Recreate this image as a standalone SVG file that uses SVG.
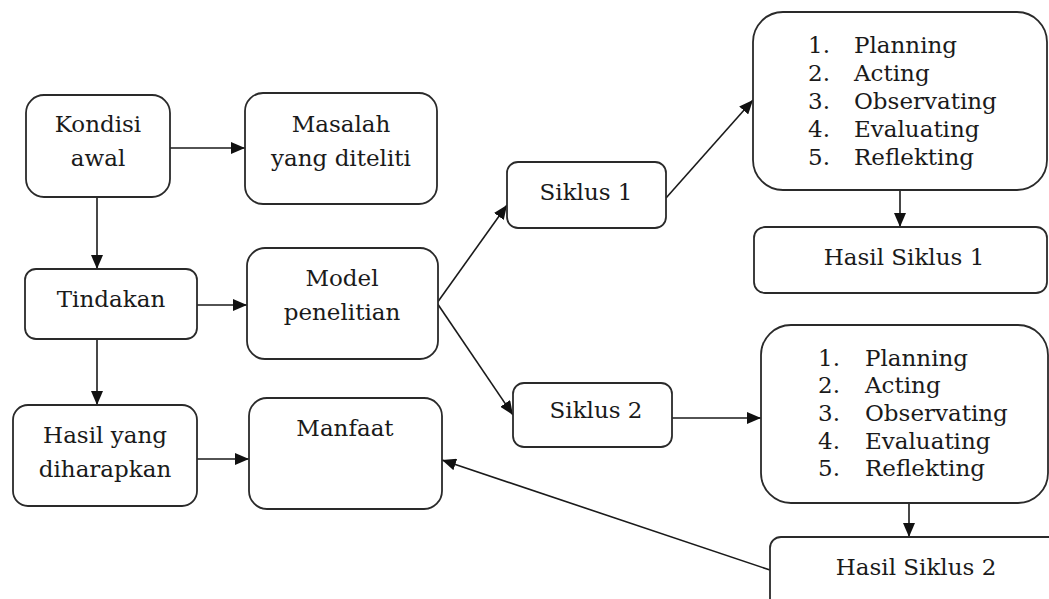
<svg xmlns="http://www.w3.org/2000/svg" width="1049" height="599" viewBox="0 0 1049 599">
<style>
.box{fill:#fff;stroke:#2a2a2a;stroke-width:1.8}
.t{font-family:"DejaVu Serif","Liberation Serif",serif;font-size:23px;fill:#1a1a1a}
.c{text-anchor:middle}
.ln{stroke:#1a1a1a;stroke-width:1.6;fill:none}
</style>
<defs>
<marker id="ah" viewBox="0 0 14 12" refX="14" refY="6" markerWidth="14" markerHeight="12" markerUnits="userSpaceOnUse" orient="auto">
<path d="M0,0 L14,6 L0,12 Z" fill="#111"/>
</marker>
</defs>
<rect width="1049" height="599" fill="#fff"/>
<g id="connectors">
<line class="ln" x1="170" y1="148" x2="245" y2="148" marker-end="url(#ah)"/>
<line class="ln" x1="97" y1="197" x2="97" y2="269" marker-end="url(#ah)"/>
<line class="ln" x1="197" y1="305" x2="247" y2="305" marker-end="url(#ah)"/>
<line class="ln" x1="97" y1="339" x2="97" y2="405" marker-end="url(#ah)"/>
<line class="ln" x1="197" y1="459" x2="249" y2="459" marker-end="url(#ah)"/>
<line class="ln" x1="437" y1="303" x2="507" y2="205" marker-end="url(#ah)"/>
<line class="ln" x1="437" y1="303" x2="513" y2="415" marker-end="url(#ah)"/>
<line class="ln" x1="666" y1="198" x2="753" y2="100" marker-end="url(#ah)"/>
<line class="ln" x1="900" y1="190" x2="900" y2="227" marker-end="url(#ah)"/>
<line class="ln" x1="672" y1="418" x2="761" y2="418" marker-end="url(#ah)"/>
<line class="ln" x1="909" y1="503" x2="909" y2="537" marker-end="url(#ah)"/>
<line class="ln" x1="770" y1="570" x2="442" y2="460" marker-end="url(#ah)"/>
</g>
<g id="kondisi">
<rect class="box" x="26" y="95" width="144" height="102" rx="18"/>
<text class="t c" x="98" y="132">Kondisi</text>
<text class="t c" x="98" y="166">awal</text>
</g>
<g id="masalah">
<rect class="box" x="245" y="93" width="192" height="111" rx="18"/>
<text class="t c" x="341" y="132">Masalah</text>
<text class="t c" x="341" y="166">yang diteliti</text>
</g>
<g id="tindakan">
<rect class="box" x="25" y="269" width="172" height="70" rx="11"/>
<text class="t c" x="111" y="307">Tindakan</text>
</g>
<g id="model">
<rect class="box" x="247" y="248" width="191" height="111" rx="18"/>
<text class="t c" x="342" y="286">Model</text>
<text class="t c" x="342" y="320">penelitian</text>
</g>
<g id="hasil-harap">
<rect class="box" x="13" y="405" width="184" height="101" rx="15"/>
<text class="t c" x="105" y="443">Hasil yang</text>
<text class="t c" x="105" y="477">diharapkan</text>
</g>
<g id="manfaat">
<rect class="box" x="249" y="398" width="193" height="111" rx="18"/>
<text class="t c" x="345" y="436">Manfaat</text>
</g>
<g id="siklus1">
<rect class="box" x="507" y="162" width="159" height="66" rx="11"/>
<text class="t c" x="586" y="200">Siklus 1</text>
</g>
<g id="siklus2">
<rect class="box" x="513" y="383" width="159" height="64" rx="11"/>
<text class="t c" x="596" y="418">Siklus 2</text>
</g>
<g id="langkah1">
<rect class="box" x="753" y="12" width="294" height="178" rx="30"/>
<text class="t" x="808" y="53">1.</text><text class="t" x="854" y="53">Planning</text>
<text class="t" x="808" y="81">2.</text><text class="t" x="854" y="81">Acting</text>
<text class="t" x="808" y="109">3.</text><text class="t" x="854" y="109">Observating</text>
<text class="t" x="808" y="137">4.</text><text class="t" x="854" y="137">Evaluating</text>
<text class="t" x="808" y="165">5.</text><text class="t" x="854" y="165">Reflekting</text>
</g>
<g id="hasil1">
<rect class="box" x="754" y="227" width="293" height="66" rx="11"/>
<text class="t c" x="904" y="265">Hasil Siklus 1</text>
</g>
<g id="langkah2">
<rect class="box" x="761" y="325" width="287" height="178" rx="30"/>
<text class="t" x="818" y="366">1.</text><text class="t" x="865" y="366">Planning</text>
<text class="t" x="818" y="393">2.</text><text class="t" x="865" y="393">Acting</text>
<text class="t" x="818" y="421">3.</text><text class="t" x="865" y="421">Observating</text>
<text class="t" x="818" y="449">4.</text><text class="t" x="865" y="449">Evaluating</text>
<text class="t" x="818" y="476">5.</text><text class="t" x="865" y="476">Reflekting</text>
</g>
<g id="hasil2">
<rect class="box" x="770" y="537" width="300" height="90" rx="11"/>
<text class="t c" x="916" y="575">Hasil Siklus 2</text>
</g>
</svg>
